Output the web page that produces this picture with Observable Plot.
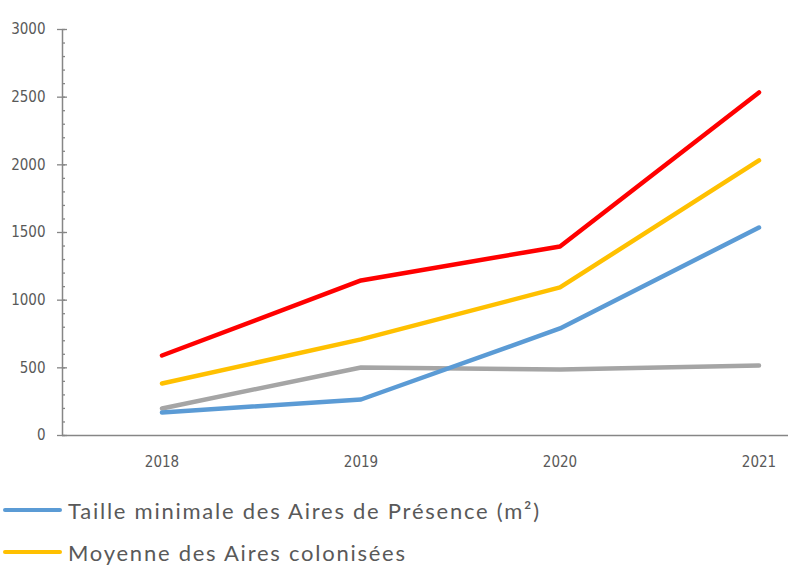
<!DOCTYPE html>
<html><head><meta charset="utf-8">
<script src="https://cdn.jsdelivr.net/npm/d3@7"></script>
<script src="https://cdn.jsdelivr.net/npm/@observablehq/plot@0.6"></script>
<style>
html,body{margin:0;padding:0;background:#fff;overflow:hidden;}
#wrap{position:relative;width:788px;height:567px;}
#legend{position:absolute;left:0;top:490px;width:788px;font-family:Lato,"Open Sans",sans-serif;color:#595959;}
.item{position:absolute;left:0;height:30px;display:flex;align-items:center;white-space:nowrap;}
.swatch{display:inline-block;width:59px;height:4px;border-radius:2px;margin-left:3px;margin-right:6px;}
.label{font-size:22px;letter-spacing:1.75px;}
</style></head><body>
<div id="wrap"><div id="chart"></div><div id="legend"></div></div>
<script>
// ---- data ----
const years = [2018, 2019, 2020, 2021];
const tailleMinimale = [170, 266, 791, 1537];
const moyenneColonisees = [384, 710, 1094, 2033];
const serieGrise = [200, 503, 488, 517];
const serieRouge = [591, 1146, 1397, 2535];
const seriesKeys = ["gris", "taille", "moyenne", "rouge"];
const seriesColors = ["#A5A5A5", "#5B9BD5", "#FFC000", "#FF0000"];
const legendNames = ["Taille minimale des Aires de Présence (m²)", "Moyenne des Aires colonisées"];
const legendColors = ["#5B9BD5", "#FFC000"];
const yMajorTicks = [0, 500, 1000, 1500, 2000, 2500, 3000];
const yMinorTicks = d3.range(0, 3001, 100);

// ---- build table ----
const seriesValues = {gris: serieGrise, taille: tailleMinimale, moyenne: moyenneColonisees, rouge: serieRouge};
const rows = seriesKeys.flatMap(k => years.map((yr, i) => ({serie: k, year: yr, value: seriesValues[k][i]})));

const axisColor = "#868686";
const textColor = "#595959";
const tickFont = '"Liberation Sans Narrow","DejaVu Sans Condensed",sans-serif';

const chart = Plot.plot({
  width: 788,
  height: 490,
  marginLeft: 62,
  marginTop: 29,
  marginBottom: 55,
  marginRight: 0,
  style: {fontFamily: tickFont, fontSize: "15px", color: textColor, background: "#fff", overflow: "visible"},
  x: {type: "linear", domain: [2017.5, 2021.5], range: [62, 858]},
  y: {domain: [0, 3000], range: [435, 29]},
  color: {domain: seriesKeys, range: seriesColors},
  marks: [
    Plot.axisY({ticks: yMinorTicks, tickSize: 3, dx: 3, text: null, label: null, stroke: axisColor, strokeWidth: 1.3}),
    Plot.axisY({ticks: yMajorTicks, tickSize: 10, dx: 5, text: null, label: null, stroke: axisColor, strokeWidth: 1.3}),
    Plot.axisY({ticks: yMajorTicks, tickSize: 0, tickPadding: 17, tickFormat: d => String(d), label: null, fill: textColor, fontSize: 15}),
    Plot.axisX({ticks: years, tickSize: 0, tickPadding: 21, tickFormat: d => String(d), label: null, fill: textColor, fontSize: 15}),
    Plot.ruleX([2017.5], {stroke: axisColor, strokeWidth: 1.5}),
    Plot.ruleY([0], {stroke: axisColor, strokeWidth: 1.5}),
    Plot.line(rows, {x: "year", y: "value", z: "serie", stroke: "serie", strokeWidth: 4.5, strokeLinejoin: "round", strokeLinecap: "round"})
  ]
});
document.getElementById("chart").appendChild(chart);

// ---- legend ----
const legend = document.getElementById("legend");
legendNames.forEach((name, i) => {
  const item = document.createElement("div");
  item.className = "item";
  item.style.top = (5 + i * 42) + "px";
  const sw = document.createElement("span");
  sw.className = "swatch";
  sw.style.background = legendColors[i];
  const lb = document.createElement("span");
  lb.className = "label";
  lb.textContent = name;
  item.appendChild(sw); item.appendChild(lb);
  legend.appendChild(item);
});
</script>
</body></html>
